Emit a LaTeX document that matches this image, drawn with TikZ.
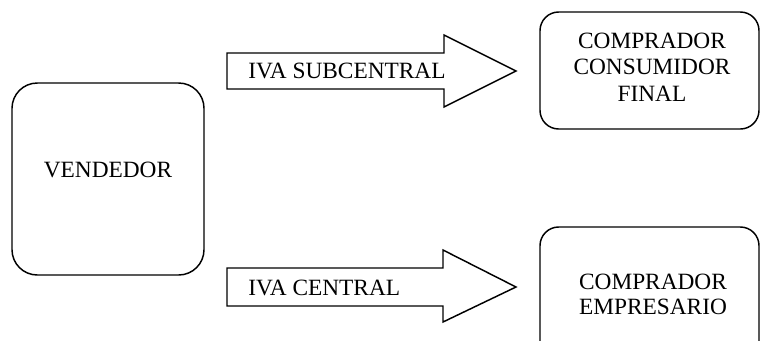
\documentclass[tikz,border=0pt]{standalone}
\usepackage{fontspec}
\setmainfont{Liberation Serif}
\begin{document}
\begin{tikzpicture}[x=0.75pt,y=-0.75pt,
  box/.style={draw=black,line width=1.1pt},
  blockarrow/.style={draw=black,line width=1.1pt,line join=miter,fill=white},
  lbl/.style={font=\fontsize{17.5}{20.5}\selectfont,inner sep=0pt,align=center}]
\useasboundingbox (0,0) rectangle (760,340);
\clip (0,0) rectangle (760,340);
% seller box
\draw[box,rounded corners=19pt] (12,83) rectangle (204,275);
\node[lbl] (vend) at (108,170) {VENDEDOR};
% buyer boxes
\draw[box,rounded corners=14pt] (540,12) rectangle (759,129);
\node[lbl,text depth=0pt] (cf) at (652,67) {COMPRADOR\\[-0.5pt]CONSUMIDOR\\[-0.5pt]FINAL};
\draw[box,rounded corners=14pt] (540,227) rectangle (759,380);
\node[lbl] (emp) at (653,294.5) {COMPRADOR\\[-2pt]EMPRESARIO};
% block arrows
\draw[blockarrow] (227,53) -- (444,53) -- (444,35) -- (516,71) -- (444,107) -- (444,89) -- (227,89) -- cycle;
\node[lbl,anchor=west] (sub) at (248,71) {IVA SUBCENTRAL};
\draw[blockarrow] (227,268) -- (443,268) -- (443,250) -- (516,287) -- (443,322) -- (443,306) -- (227,306) -- cycle;
\node[lbl,anchor=west] (cen) at (248,288) {IVA CENTRAL};
\end{tikzpicture}
\end{document}
